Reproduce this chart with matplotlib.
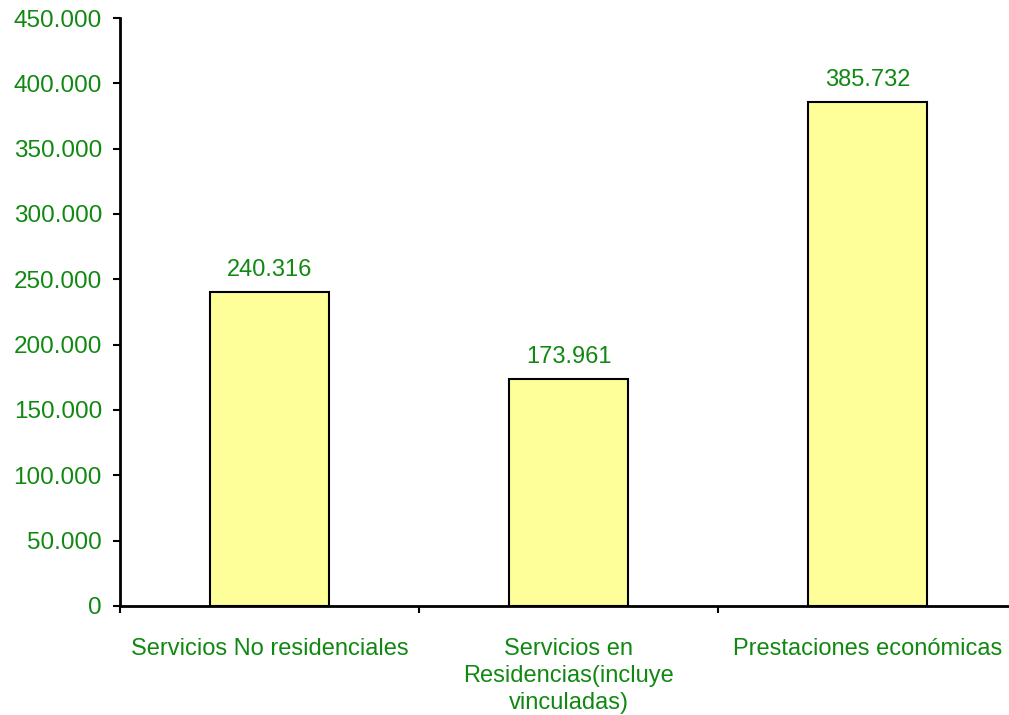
import matplotlib
matplotlib.use('Agg')
import matplotlib.pyplot as plt
from matplotlib.ticker import FuncFormatter

categories = ['Servicios No residenciales',
              'Servicios en\nResidencias(incluye\nvinculadas)',
              'Prestaciones económicas']
values = [240316, 173961, 385732]
value_labels = ['240.316', '173.961', '385.732']

green = '#118811'
plt.rcParams['font.family'] = ['Liberation Sans', 'DejaVu Sans']

fig = plt.figure(figsize=(10.09, 7.15), dpi=100)
ax = fig.add_axes([120 / 1009, 1 - 606 / 715, 889 / 1009, 588 / 715])

x = range(len(categories))
bars = ax.bar(x, values, width=0.4, color='#FFFF99', edgecolor='black', linewidth=1.5, zorder=2)

for b, lab in zip(bars, value_labels):
    ax.annotate(lab, (b.get_x() + b.get_width() / 2, b.get_height()),
                xytext=(0, 8), textcoords='offset points', ha='center', va='bottom',
                color=green, fontsize=17)

ax.set_ylim(0, 450000)
ax.set_yticks(range(0, 450001, 50000))
ax.yaxis.set_major_formatter(FuncFormatter(lambda v, p: '0' if v == 0 else f'{int(v):,}'.replace(',', '.')))
ax.set_xlim(-0.5, 2.5 - 8 / 299)

# category ticks at boundaries, labels centred below
ax.set_xticks([-0.5, 0.5, 1.5])
ax.set_xticklabels([])
ax.set_xticks(list(x), minor=True)
ax.set_xticklabels(categories, minor=True, color=green, fontsize=17, va='top', linespacing=1.3)
ax.tick_params(axis='x', which='minor', length=0, pad=23)
ax.tick_params(axis='x', which='major', length=5, width=1.5, direction='out')
ax.tick_params(axis='y', length=5, width=1.5, direction='out', labelcolor=green, labelsize=17.5, pad=8)

for s in ['top', 'right']:
    ax.spines[s].set_visible(False)
for s in ['left', 'bottom']:
    ax.spines[s].set_linewidth(2)

fig.savefig('out.png', dpi=100)
